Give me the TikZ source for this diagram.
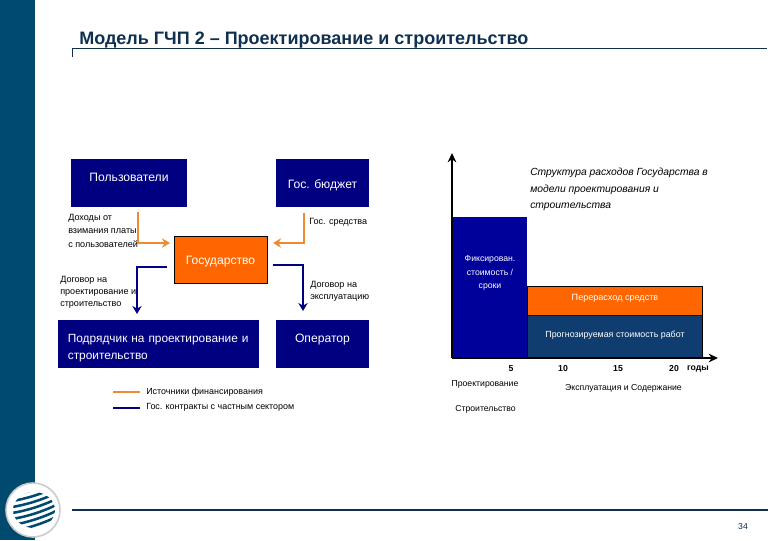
\documentclass[tikz,border=0pt]{standalone}
\usepackage{fontspec}
\setmainfont{Liberation Sans}
\usetikzlibrary{arrows.meta}
\definecolor{stripblue}{HTML}{004A70}
\definecolor{titleblue}{HTML}{0F3050}
\definecolor{boxnavy}{HTML}{000080}
\definecolor{barblue}{HTML}{00009A}
\definecolor{workblue}{HTML}{0F3D70}
\definecolor{fundorange}{HTML}{FF6600}
\definecolor{linkorange}{HTML}{F08A30}
\tikzset{
  navybox/.style={fill=boxnavy, text=white, font=\fontsize{9.1}{13}\selectfont, inner sep=0pt, outer sep=0pt, align=left, minimum height=36pt},
  label/.style={font=\fontsize{6.8}{10.1}\selectfont, align=left, inner sep=0pt, text=black},
  ticklabel/.style={label, font=\fontsize{6.5}{8}\bfseries\selectfont},
  phaselabel/.style={label, font=\fontsize{6.5}{8}\selectfont},
  fundline/.style={draw=linkorange, line width=2pt, -{Stealth[length=6pt,width=7pt]}},
  dealline/.style={draw=boxnavy, line width=2pt, -{Stealth[length=6pt,width=7pt]}},
  axisline/.style={draw=black, line width=1.4pt, -{Stealth[length=7pt,width=6.5pt]}},
}
\begin{document}
\begin{tikzpicture}[x=0.75pt, y=-0.75pt]
  \useasboundingbox (0,0) rectangle (780,540);
  % strip and rules
  \fill[stripblue] (0,0) rectangle (35,540);
  \node[anchor=base west, inner sep=0pt, text=titleblue, font=\fontsize{13.5}{15}\bfseries\selectfont] (title) at (79,44) {Модель ГЧП 2 – Проектирование и строительство};
  \draw[titleblue, line width=0.6pt] (72,57) -- (72,48) -- (767,48);
  \draw[titleblue, line width=1.4pt] (72,510) -- (768,510);
  \node[font=\fontsize{6.5}{8}\selectfont, text=titleblue, inner sep=0pt] (page) at (743,527) {34};
  % logo
  \fill[white, draw=black!20, line width=1.2pt] (33,510) circle (27);
  \begin{scope}
    \clip (34,510) ellipse (21 and 18);
    \foreach \y in {-20,-14,...,22}
      \draw[stripblue, line width=1.9pt] (12,510+\y+5) .. controls (25,510+\y+3) and (42,510+\y-2) .. (56,510+\y-9);
  \end{scope}
  % boxes
  \node[navybox, minimum width=87pt, text depth=8pt] (users) at (129,183) {Пользователи};
  \node[navybox, minimum width=69.75pt, text height=9.5pt] (budget) at (322.5,183) {Гос. бюджет};
  \node[navybox, fill=fundorange, draw=black, line width=0.5pt, minimum width=69.75pt, minimum height=35.25pt, text height=9.5pt] (state) at (220.5,259.5) {Государство};
  \node[navybox, minimum width=150.75pt, text width=136pt, font=\fontsize{8.9}{13}\selectfont] (builder) at (158.5,344) {\rule{0pt}{12.5pt}Подрядчик на проектирование и\\строительство};
  \node[navybox, minimum width=69.75pt, text depth=8pt] (operator) at (322.5,344) {Оператор};
  % connector labels
  \node[label, anchor=north west] (incomelbl) at (68,214) {Доходы от\\взимания платы\\с пользователей};
  \node[label, anchor=north west] (fundslbl) at (309,218) {Гос. средства};
  \node[label, anchor=north west, font=\fontsize{6.8}{9}\selectfont] (buildlbl) at (60,276) {Договор на\\проектирование и\\строительство};
  \node[label, anchor=north west, font=\fontsize{6.8}{9}\selectfont] (operlbl) at (310,281) {Договор на\\эксплуатацию};
  % connectors
  \draw[fundline] ([shift={(9,5)}]users.south) |- ([shift={(-4,-16.5)}]state.west);
  \draw[fundline] ([shift={(-18.5,6)}]budget.south) |- ([shift={(6,-16.5)}]state.east);
  \draw[dealline] ([shift={(-7,7.5)}]state.west) -| ([shift={(-21.5,-6)}]builder.north);
  \draw[dealline] ([shift={(6,5.5)}]state.east) -| ([shift={(-19.5,-9)}]operator.north);
  % legend
  \coordinate (fundkey) at (113,392);
  \coordinate (dealkey) at (113,408);
  \node[label, anchor=west, font=\fontsize{6.7}{8}\selectfont] (legfund) at (146,392) {Источники финансирования};
  \node[label, anchor=west, font=\fontsize{6.7}{8}\selectfont] (legdeal) at (146,407) {Гос. контракты с частным сектором};
  \draw[linkorange, line width=2pt] (fundkey) -- ([xshift=-4.5pt]legfund.west);
  \draw[boxnavy, line width=2pt] (dealkey) -- ([shift={(-6,1)}]legdeal.west);
  % chart
  \fill[barblue] (453,217) rectangle (527,357);
  \fill[fundorange, draw=black, line width=0.5pt] (527,286) rectangle (702,315);
  \fill[workblue, draw=black, line width=0.5pt] (527,315) rectangle (702,357);
  \coordinate (origin) at (452,358);
  \coordinate (ytop) at (452,153);
  \coordinate (xend) at (718,358);
  \draw[axisline] (origin) -- (ytop);
  \draw[axisline] (origin) -- (xend);
  \node[label, text=white, align=center, font=\fontsize{6.5}{10}\selectfont] (fixedlbl) at (490,273) {Фиксирован.\\стоимость /\\сроки};
  \node[label, text=white] (overlbl) at (615,298) {Перерасход средств};
  \node[label, text=white, font=\fontsize{6.65}{8}\selectfont] (worklbl) at (615,335) {Прогнозируемая стоимость работ};
  \node[font=\fontsize{7.75}{12.4}\itshape\selectfont, align=left, inner sep=0pt, anchor=north west] (charttitle) at (530,168) {Структура расходов Государства в\\модели проектирования и\\строительства};
  \foreach \val/\px in {5/511,10/563,15/618,20/674}
    \node[ticklabel] (tick\val) at (\px,369) {\val};
  \node[ticklabel] (unit) at (698,369) {годы};
  \node[phaselabel] (design) at (485,384) {Проектирование};
  \node[phaselabel] (constr) at (485.5,409) {Строительство};
  \node[phaselabel] (oper) at (623.5,388) {Эксплуатация и Содержание};
\end{tikzpicture}
\end{document}
